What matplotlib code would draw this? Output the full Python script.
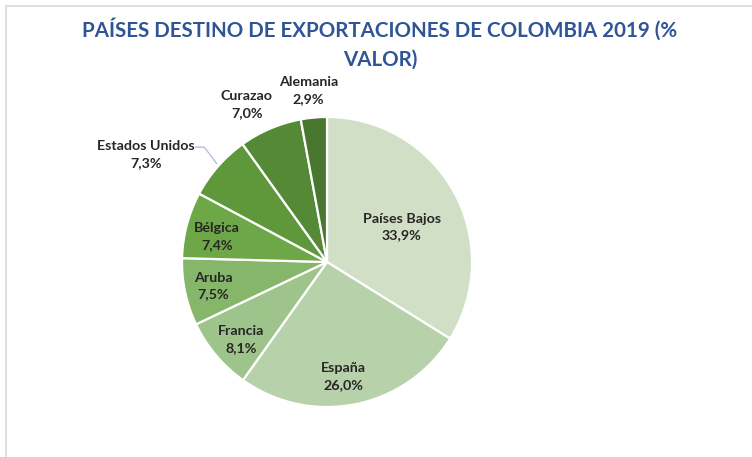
"""Pie chart: export destination countries of Colombia 2019 (% value)."""

import matplotlib

matplotlib.use("Agg")
import matplotlib.pyplot as plt
import numpy as np
from matplotlib.lines import Line2D

FONT = ["Lato", "DejaVu Sans"]
plt.rcParams["font.family"] = FONT

countries = ["Países Bajos", "España", "Francia", "Aruba", "Bélgica",
             "Estados Unidos", "Curazao", "Alemania"]
shares = [33.9, 26.0, 8.1, 7.5, 7.4, 7.3, 7.0, 2.9]
share_labels = ["33,9%", "26,0%", "8,1%", "7,5%", "7,4%", "7,3%", "7,0%", "2,9%"]
wedge_colors = ["#D0DFC5", "#B7D2AB", "#9FC48B", "#86B66A", "#6EA747",
                "#5F983B", "#548936", "#4A772F"]

# label placement: (distance from centre in radii, angle shift in degrees)
label_place = [(0.57, -4), (0.80, -3), (0.80, 2), (0.80, 0), (0.78, 2),
               (1.45, 10.5), (1.22, 4), (1.19, 1)]

fig = plt.figure(figsize=(7.52, 4.57), dpi=100)

# chart frame (only top/left edge visible)
fig.add_artist(Line2D([6 / 752, 1], [1 - 6 / 457, 1 - 6 / 457],
                      color="#D9D9D9", lw=1.2))
fig.add_artist(Line2D([6 / 752, 6 / 752], [0, 1 - 6 / 457],
                      color="#D9D9D9", lw=1.2))

fig.text(380 / 752, 1 - 29 / 457, "PAÍSES DESTINO DE EXPORTACIONES DE COLOMBIA 2019 (%",
         ha="center", va="center", fontsize=14.8, fontweight="bold", color="#2F5597")
fig.text(380 / 752, 1 - 60 / 457, "VALOR)",
         ha="center", va="center", fontsize=14.8, fontweight="bold", color="#2F5597")

r_px = 145
cx, cy = 327, 262
ax = fig.add_axes([(cx - r_px) / 752, (457 - cy - r_px) / 457,
                   2 * r_px / 752, 2 * r_px / 457])
wedges, _ = ax.pie(shares, colors=wedge_colors, startangle=90, counterclock=False,
                   wedgeprops=dict(edgecolor="white", linewidth=1.6))
ax.set_xlim(-1, 1)
ax.set_ylim(-1, 1)
ax.set_aspect("equal")
ax.axis("off")

for w, name, pct, (dist, shift) in zip(wedges, countries, share_labels, label_place):
    mid = np.deg2rad((w.theta1 + w.theta2) / 2 + shift)
    x, y = dist * np.cos(mid), dist * np.sin(mid)
    ax.text(x, y, f"{name}\n{pct}", ha="center", va="center", fontsize=10.3,
            fontweight="bold", color="#262626", linespacing=1.5)
    if name == "Estados Unidos":
        edge = np.deg2rad((w.theta1 + w.theta2) / 2)
        ex, ey = 1.0 * np.cos(edge), 1.0 * np.sin(edge)
        tx = x + 0.34
        ty = y + 0.05
        ax.plot([tx, tx + 0.06, ex - 0.01], [ty, ty, ey + 0.02],
                color="#A9BCDC", lw=0.9, clip_on=False)

fig.savefig("out.png", dpi=100)
